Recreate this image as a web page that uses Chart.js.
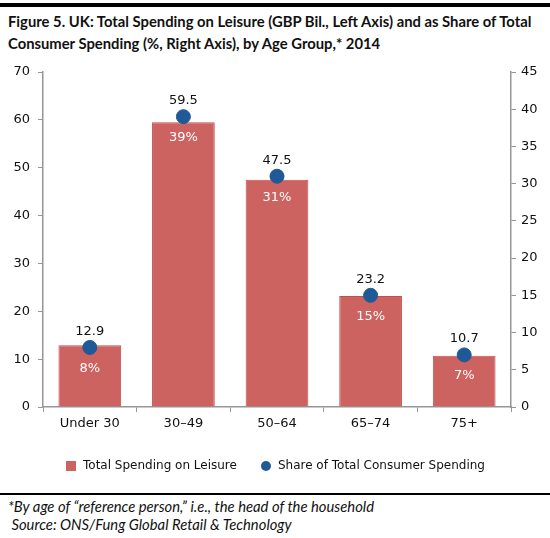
<!DOCTYPE html>
<html>
<head>
<meta charset="utf-8">
<script src="https://cdn.jsdelivr.net/npm/chart.js@4.4.1/dist/chart.umd.min.js"></script>
<style>
    body { margin: 0; background: #fff; width: 550px; height: 538px; position: relative; overflow: hidden; }
    .topbar { position: absolute; left: 0; top: 3px; width: 550px; height: 4px; background: #000; }
    .title { position: absolute; left: 8px; top: 10px; font-family: Lato, sans-serif; font-weight: bold; font-size: 14.8px; line-height: 22px; color: #111; white-space: nowrap; }
    .chart-wrap { position: absolute; left: 0; top: 56px; width: 550px; height: 430px; }
    .rule { position: absolute; left: 0; top: 493px; width: 550px; height: 2px; background: #000; }
    .note { position: absolute; left: 8px; top: 497px; font-family: Lato, sans-serif; font-style: italic; font-size: 14.8px; line-height: 18px; color: #111; white-space: pre; }
</style>
</head>
<body>
<div class="topbar"></div>
<div class="title">Figure 5. UK: Total Spending on Leisure (GBP Bil., Left Axis) and as Share of Total<br>Consumer Spending (%, Right Axis), by Age Group,* 2014</div>
<div class="chart-wrap"><canvas id="chart"></canvas></div>
<div class="rule"></div>
<div class="note">*By age of “reference person,” i.e., the head of the household
 Source: ONS/Fung Global Retail &amp; Technology</div>
<script>
const categories = ['Under 30', '30–49', '50–64', '65–74', '75+'];
const spendingGbpBil = [12.9, 59.5, 47.5, 23.2, 10.7];
const sharePct = [8, 39, 31, 15, 7];
const leftAxis = { min: 0, max: 70, step: 10 };
const rightAxis = { min: 0, max: 45, step: 5 };

const barRed = '#cd6360';
const dotBlue = '#1f5a96';
const axisGray = '#969696';
const tickFont = { family: 'DejaVu Sans', size: 13 };

// small legend markers (the built-in ones scale the circle up too much)
function makeMarker(shape, color, size) {
    const c = document.createElement('canvas');
    c.width = size;
    c.height = size;
    const g = c.getContext('2d');
    g.fillStyle = color;
    if (shape === 'circle') {
        g.beginPath();
        g.arc(size / 2, size / 2, size / 2, 0, Math.PI * 2);
        g.fill();
    } else {
        g.fillRect(0, 0, size, size);
    }
    return c;
}
const legendMarkers = [makeMarker('rect', barRed, 10), makeMarker('circle', dotBlue, 10)];

// value labels above the dots, share labels inside the bars
const labelPlugin = {
    id: 'pointLabels',
    afterDatasetsDraw(chart) {
        const ctx = chart.ctx;
        const meta = chart.getDatasetMeta(1);
        ctx.save();
        ctx.font = '13px "DejaVu Sans"';
        ctx.textAlign = 'center';
        ctx.textBaseline = 'middle';
        meta.data.forEach((pt, i) => {
            ctx.fillStyle = '#111';
            ctx.fillText(spendingGbpBil[i].toFixed(1), pt.x, pt.y - 16);
            ctx.fillStyle = '#fff';
            ctx.fillText(sharePct[i] + '%', pt.x, pt.y + 21);
        });
        ctx.restore();
    }
};

new Chart(document.getElementById('chart'), {
    data: {
        labels: categories,
        datasets: [
            {
                type: 'bar',
                label: 'Total Spending on Leisure',
                data: spendingGbpBil,
                backgroundColor: barRed,
                borderColor: '#c0504d',
                borderWidth: 1,
                categoryPercentage: 1,
                barPercentage: 0.67,
                yAxisID: 'y',
                order: 1
            },
            {
                type: 'line',
                label: 'Share of Total Consumer Spending',
                data: sharePct,
                showLine: false,
                pointRadius: 7,
                pointHoverRadius: 7,
                pointBackgroundColor: dotBlue,
                pointBorderColor: dotBlue,
                backgroundColor: dotBlue,
                borderColor: dotBlue,
                pointStyle: 'circle',
                yAxisID: 'y1',
                order: 0
            }
        ]
    },
    options: {
        responsive: true,
        maintainAspectRatio: false,
        animation: false,
        layout: { padding: { top: 16, left: 0, right: 0, bottom: 4 } },
        plugins: {
            tooltip: { enabled: false },
            legend: {
                position: 'bottom',
                labels: {
                    usePointStyle: true,
                    boxHeight: 8,
                    padding: 23,
                    color: '#111',
                    font: { family: 'DejaVu Sans', size: 12 },
                    generateLabels: (chart) => {
                        const items = Chart.defaults.plugins.legend.labels.generateLabels(chart);
                        items.forEach(item => { item.pointStyle = legendMarkers[item.datasetIndex]; });
                        return items.sort((a, b) => a.datasetIndex - b.datasetIndex);
                    }
                }
            }
        },
        scales: {
            x: {
                offset: true,
                grid: { display: true, drawOnChartArea: false, offset: true, tickLength: 5, color: axisGray },
                border: { color: axisGray, width: 1.5 },
                ticks: { color: '#111', font: tickFont, padding: 4 },
                afterFit: (axis) => { axis.height = 30; }
            },
            y: {
                position: 'left',
                min: leftAxis.min,
                max: leftAxis.max,
                grid: { display: true, drawOnChartArea: false, tickLength: 5, color: axisGray },
                border: { color: axisGray, width: 1.5 },
                ticks: { stepSize: leftAxis.step, color: '#111', font: tickFont, padding: 8 },
                afterFit: (axis) => { axis.width = 43; }
            },
            y1: {
                position: 'right',
                min: rightAxis.min,
                max: rightAxis.max,
                grid: { display: true, drawOnChartArea: false, tickLength: 5, color: axisGray },
                border: { color: axisGray, width: 1.5 },
                ticks: { stepSize: rightAxis.step, color: '#111', font: tickFont, padding: 5 },
                afterFit: (axis) => { axis.width = 39; }
            }
        }
    },
    plugins: [labelPlugin]
});
</script>
</body>
</html>
